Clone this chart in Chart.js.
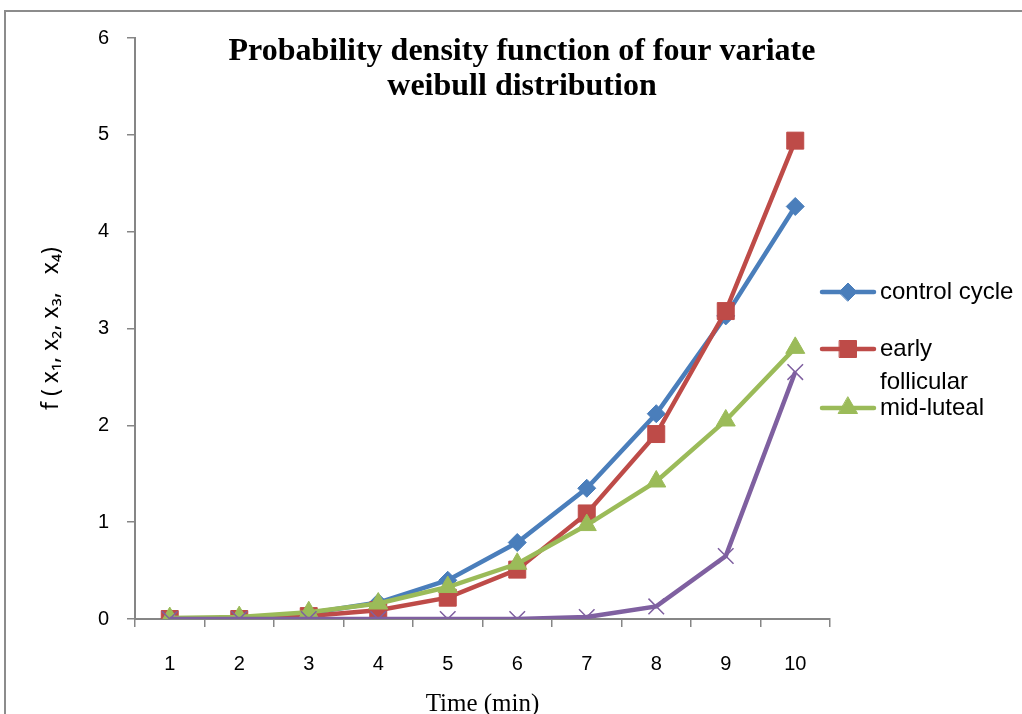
<!DOCTYPE html>
<html><head><meta charset="utf-8">
<script src="https://cdn.jsdelivr.net/npm/chart.js@4/dist/chart.umd.min.js"></script>
<style>html,body{margin:0;padding:0;background:#fff}#wrap{width:1022px;height:714px;position:relative}</style>
</head><body><div id="wrap"><canvas id="c" width="1022" height="714"></canvas></div>
<script>
const categories = ['1','2','3','4','5','6','7','8','9','10'];
const controlCycle = [0.00, 0.01, 0.06, 0.17, 0.40, 0.79, 1.35, 2.12, 3.13, 4.26];
const earlyFollicular = [0.00, 0.00, 0.03, 0.09, 0.22, 0.51, 1.09, 1.91, 3.18, 4.94];
const midLuteal = [0.01, 0.02, 0.07, 0.16, 0.33, 0.57, 0.97, 1.42, 2.05, 2.80];
const series4 = [0.00, 0.00, 0.00, 0.00, 0.00, 0.00, 0.02, 0.13, 0.65, 2.55];
const yTicks = [0,1,2,3,4,5,6];
const titleLines = ['Probability density function of four variate','weibull distribution'];
const yTitle = 'f ( x\u2081, x\u2082, x\u2083,   x\u2084)';
const xTitle = 'Time (min)';
const legendLabels = [['control cycle'],['early','follicular'],['mid-luteal']];

const C = {blue:'#4A7EBB', red:'#BE4B48', green:'#9BBB59', purple:'#7F60A0'};
const sans = '"Liberation Sans", "DejaVu Sans", sans-serif';
const serif = '"Liberation Serif", "DejaVu Serif", serif';

function ds(label, data, color, style, radius, order, bw){
  return {label, data, borderColor:color, backgroundColor:color, pointBackgroundColor:color,
    pointBorderColor:color, pointStyle:style, pointRadius:radius, pointHoverRadius:radius,
    pointBorderWidth:bw||1, borderWidth:4.5, tension:0, order};
}

const framePlugin = {
  id:'frame',
  beforeDraw(chart){
    const ctx = chart.ctx;
    ctx.save();
    ctx.strokeStyle = '#8c8c8c';
    ctx.lineWidth = 2;
    ctx.beginPath();
    ctx.moveTo(5, 714); ctx.lineTo(5, 11); ctx.lineTo(1022, 11);
    ctx.stroke();
    ctx.restore();
  },
  afterDraw(chart){
    const ctx = chart.ctx;
    ctx.save();
    ctx.fillStyle = '#000';
    ctx.font = 'bold 32px ' + serif;
    ctx.textAlign = 'center'; ctx.textBaseline = 'middle';
    ctx.fillText(titleLines[0], 522, 52);
    ctx.fillText(titleLines[1], 522, 87);
    const ys = [292, 349, 408];
    const dsets = chart.data.datasets;
    for (let i = 0; i < 3; i++) {
      const d = dsets[i], y = ys[i];
      ctx.strokeStyle = d.borderColor; ctx.lineWidth = 4.5; ctx.lineCap = 'round';
      ctx.beginPath(); ctx.moveTo(822, y); ctx.lineTo(874, y); ctx.stroke();
      ctx.fillStyle = d.borderColor; ctx.strokeStyle = d.borderColor; ctx.lineWidth = 1;
      Chart.helpers.drawPoint(ctx, {pointStyle:d.pointStyle, radius:d.pointRadius, borderWidth:1}, 848, y);
      ctx.fillStyle = '#000';
      ctx.font = '24px ' + sans;
      ctx.textAlign = 'left'; ctx.textBaseline = 'middle';
      legendLabels[i].forEach((t, k) => ctx.fillText(t, 880, y + k * 33));
    }
    ctx.restore();
  }
};

new Chart(document.getElementById('c'), {
  type:'line',
  data:{
    labels: categories,
    datasets:[
      ds('control cycle', controlCycle, C.blue, 'rectRot', 9, 4),
      ds('early follicular', earlyFollicular, C.red, 'rect', 12, 3),
      ds('mid-luteal', midLuteal, C.green, 'triangle', 11, 2),
      ds('series 4', series4, C.purple, 'crossRot', 11, 1, 1.5)
    ]
  },
  options:{
    responsive:false, animation:false, devicePixelRatio:1,
    layout:{padding:{left:0, right:192, top:38, bottom:0}},
    plugins:{legend:{display:false}, tooltip:{enabled:false}, title:{display:false}},
    scales:{
      x:{
        offset:true,
        grid:{offset:true, drawOnChartArea:false, drawTicks:true, tickLength:8, color:'#868686', lineWidth:1.5},
        border:{color:'#868686', width:2},
        ticks:{color:'#000', font:{family:sans, size:20}, padding:25, maxRotation:0},
        title:{display:true, text:xTitle, color:'#000', font:{family:serif, size:25}, padding:{top:0, bottom:-5}},
        afterFit(s){ s.height = 95; }
      },
      y:{
        min:0, max:6,
        afterBuildTicks(s){ s.ticks = yTicks.map(v => ({value:v})); },
        grid:{drawOnChartArea:false, drawTicks:true, tickLength:8, color:'#868686', lineWidth:1.5},
        border:{color:'#868686', width:2},
        ticks:{color:'#000', font:{family:sans, size:20}, padding:18},
        title:{display:true, text:yTitle, color:'#000', font:{family:'"Noto Sans", "DejaVu Sans", sans-serif', size:23}, padding:{top:38, bottom:0}},
        afterFit(s){ s.width = 135; }
      }
    }
  },
  plugins:[framePlugin]
});
</script></body></html>
